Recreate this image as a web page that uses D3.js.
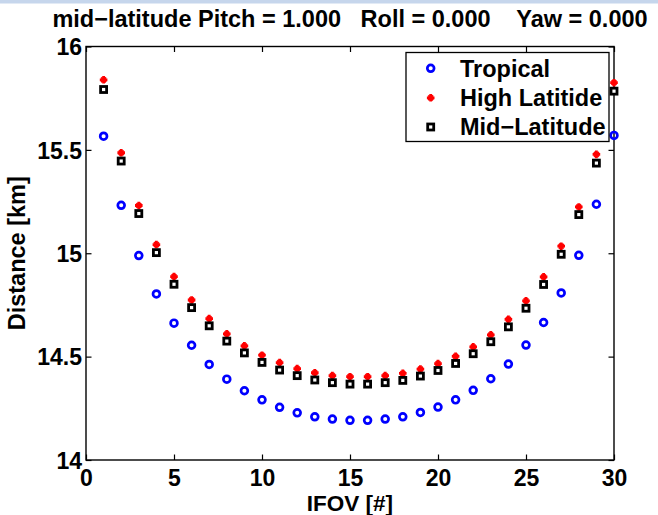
<!DOCTYPE html>
<html>
<head>
<meta charset="utf-8">
<script src="https://cdn.jsdelivr.net/npm/d3@7/dist/d3.min.js"></script>
<style>
  html, body { margin: 0; padding: 0; background: #ffffff; }
  svg { display: block; }
  text { font-family: "Liberation Sans", Arial, Helvetica, sans-serif; font-weight: bold; fill: #000; white-space: pre; }
</style>
</head>
<body>
<div id="chart"></div>
<script>
const ifov = d3.range(1, 31);
const tropical = [15.566, 15.232, 14.989, 14.803, 14.662, 14.555, 14.462, 14.391, 14.335, 14.291,
                  14.255, 14.228, 14.209, 14.198, 14.192, 14.192, 14.198, 14.209, 14.230, 14.256,
                  14.291, 14.337, 14.393, 14.464, 14.556, 14.665, 14.808, 14.990, 15.237, 15.570];
const highLatitude = [15.839, 15.486, 15.231, 15.042, 14.887, 14.774, 14.684, 14.610, 14.552, 14.507,
                      14.471, 14.442, 14.422, 14.408, 14.403, 14.403, 14.408, 14.419, 14.440, 14.466,
                      14.501, 14.547, 14.605, 14.680, 14.770, 14.886, 15.034, 15.224, 15.478, 15.825];
const midLatitude = [15.792, 15.446, 15.192, 15.003, 14.850, 14.737, 14.649, 14.575, 14.518, 14.472,
                     14.435, 14.408, 14.387, 14.374, 14.367, 14.367, 14.374, 14.385, 14.406, 14.433,
                     14.467, 14.514, 14.572, 14.644, 14.734, 14.849, 14.995, 15.187, 15.436, 15.784];
const xTicks = [0, 5, 10, 15, 20, 25, 30];
const yTicks = [14, 14.5, 15, 15.5, 16];
const legendLabels = ["Tropical", "High Latitide", "Mid\u2212Latitude"];
const titleText = "mid\u2212latitude Pitch = 1.000   Roll = 0.000    Yaw = 0.000";
const xLabel = "IFOV [#]";
const yLabel = "Distance [km]";

(function () {
const W = 658, H = 515;
const pL = 86, pR = 614, pT = 46.5, pB = 460;
const x = d3.scaleLinear().domain([0, 30]).range([pL, pR]);
const y = d3.scaleLinear().domain([14, 16]).range([pB, pT]);

const svg = d3.select("#chart").append("svg").attr("width", W).attr("height", H);
svg.append("rect").attr("width", W).attr("height", H).attr("fill", "#fff");
svg.append("rect").attr("x", 0).attr("y", 0).attr("width", W).attr("height", 3.5).attr("fill", "#c6d6ec");

const FS = 23.5;
const TFS = 23;
const tickLen = 5.5;

const gx = svg.append("g").attr("transform", `translate(0,${pB})`)
  .call(d3.axisBottom(x).tickValues(xTicks).tickSizeInner(-tickLen).tickSizeOuter(0).tickPadding(12).tickFormat(d3.format("d")));
const gxTop = svg.append("g").attr("transform", `translate(0,${pT})`)
  .call(d3.axisTop(x).tickValues(xTicks).tickSizeInner(-tickLen).tickSizeOuter(0).tickFormat(""));
const gy = svg.append("g").attr("transform", `translate(${pL},0)`)
  .call(d3.axisLeft(y).tickValues(yTicks).tickSizeInner(-tickLen).tickSizeOuter(0).tickPadding(4).tickFormat(d => String(d)));
const gyR = svg.append("g").attr("transform", `translate(${pR},0)`)
  .call(d3.axisRight(y).tickValues(yTicks).tickSizeInner(-tickLen).tickSizeOuter(0).tickFormat(""));
[gx, gxTop, gy, gyR].forEach(g => {
  g.select(".domain").remove();
  g.selectAll("line").attr("stroke", "#000").attr("stroke-width", 1.2);
  g.attr("font-family", null).attr("font-size", null);
  g.selectAll("text").attr("font-size", TFS).attr("fill", "#000");
});
gx.selectAll(".tick text").attr("dy", null).attr("y", 25.5);
gy.selectAll(".tick text").attr("dy", "0.36em");

svg.append("rect").attr("x", pL).attr("y", pT).attr("width", pR - pL).attr("height", pB - pT)
  .attr("fill", "none").attr("stroke", "#000").attr("stroke-width", 1.4);

svg.append("text").attr("x", (pL + pR) / 2).attr("y", 27).attr("text-anchor", "middle").attr("font-size", FS).text(titleText);
svg.append("text").attr("x", (pL + pR) / 2).attr("y", 511).attr("text-anchor", "middle").attr("font-size", 22.5).text(xLabel);
svg.append("text").attr("transform", `translate(25,${(pT + pB) / 2}) rotate(-90)`).attr("text-anchor", "middle").attr("font-size", FS).text(yLabel);

function circleMark(g, cx, cy) {
  g.append("circle").attr("cx", cx).attr("cy", cy).attr("r", 3.4).attr("fill", "none").attr("stroke", "#0000ff").attr("stroke-width", 2.7);
}
function plusMark(g, cx, cy) {
  g.append("path").attr("d", `M${cx - 3.8},${cy}H${cx + 3.8}M${cx},${cy - 3.8}V${cy + 3.8}`)
    .attr("stroke", "#ff0000").attr("stroke-width", 2.8).attr("fill", "none");
  g.append("path").attr("d", `M${cx - 2.4},${cy - 2.4}L${cx + 2.4},${cy + 2.4}M${cx - 2.4},${cy + 2.4}L${cx + 2.4},${cy - 2.4}`)
    .attr("stroke", "#ff0000").attr("stroke-width", 2).attr("fill", "none");
}
function squareMark(g, cx, cy) {
  g.append("rect").attr("x", cx - 3).attr("y", cy - 3).attr("width", 6).attr("height", 6)
    .attr("fill", "#fff").attr("stroke", "#000").attr("stroke-width", 2.8);
}

const gT = svg.append("g");
ifov.forEach((v, i) => circleMark(gT, x(v), y(tropical[i])));
const gH = svg.append("g");
ifov.forEach((v, i) => plusMark(gH, x(v), y(highLatitude[i])));
const gM = svg.append("g");
ifov.forEach((v, i) => squareMark(gM, x(v), y(midLatitude[i])));

const lg = svg.append("g");
lg.append("rect").attr("x", 406).attr("y", 52.5).attr("width", 203).attr("height", 89)
  .attr("fill", "#fff").attr("stroke", "#000").attr("stroke-width", 1.3);
const rows = [68.3, 97.8, 127];
const drawers = [circleMark, plusMark, squareMark];
legendLabels.forEach((lab, i) => {
  drawers[i](lg, 430.7, rows[i]);
  lg.append("text").attr("x", 460).attr("y", rows[i] + 8.3).attr("font-size", FS).text(lab);
});
})();
</script>
</body>
</html>
